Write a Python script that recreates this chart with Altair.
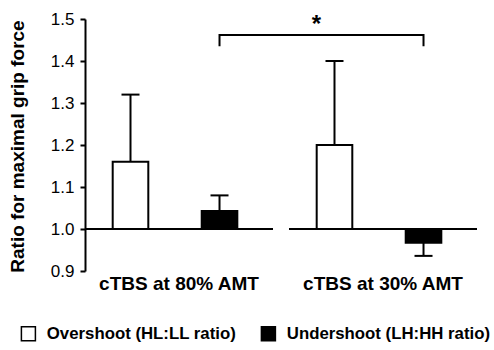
import altair as alt
import pandas as pd

groups = ["cTBS at 80% AMT", "cTBS at 30% AMT"]
series = ["Overshoot (HL:LL ratio)", "Undershoot (LH:HH ratio)"]
overshoot_mean = [1.16, 1.20]
overshoot_err = [1.32, 1.40]
undershoot_mean = [1.043, 0.967]
undershoot_err = [1.08, 0.936]
baseline = 1.0
y_ticks = [0.9, 1.0, 1.1, 1.2, 1.3, 1.4, 1.5]
bracket_low = 1.435
bracket_high = 1.462
star_y = 1.47
star_text = "*"

FONT = "Liberation Sans"

rows = []
for i, g in enumerate(groups):
    rows.append(dict(group=g, series=series[0], mean=overshoot_mean[i],
                     err=overshoot_err[i], base=baseline))
    rows.append(dict(group=g, series=series[1], mean=undershoot_mean[i],
                     err=undershoot_err[i], base=baseline))
df = pd.DataFrame(rows)

base_df = pd.DataFrame({"group": groups, "base": [baseline] * len(groups)})

bracket_df = pd.DataFrame({
    "group": [groups[0], groups[0], groups[1], groups[1]],
    "series": [series[1]] * 4,
    "y": [bracket_low, bracket_high, bracket_high, bracket_low],
    "order": [0, 1, 2, 3],
})
star_df = pd.DataFrame({"group": [groups[1]], "series": [series[0]],
                        "y": [star_y], "label": [star_text]})

x_scale = alt.Scale(domain=groups, paddingInner=0.0784, paddingOuter=0)
x_axis = alt.Axis(title=None, domain=False, ticks=False, labelAngle=0,
                  labelFont=FONT, labelFontSize=19, labelFontWeight="bold",
                  labelColor="black", labelPadding=3)
xo_scale = alt.Scale(domain=series, paddingInner=0.6, paddingOuter=0.356, align=0.437)
y_scale = alt.Scale(domain=[0.9, 1.5], nice=False, zero=False)
y_axis = alt.Axis(values=y_ticks, format=".1f", grid=False,
                  title="Ratio for maximal grip force",
                  titleFont=FONT, titleFontSize=19, titleFontWeight="bold",
                  titleColor="black", titleX=-58, titleY=127, titleAngle=-90,
                  titleAlign="center", titleBaseline="bottom",
                  labelFont=FONT, labelFontSize=17, labelColor="black",
                  labelPadding=6, domainColor="black", domainWidth=2,
                  tickColor="black", tickWidth=2, tickSize=5)

X = alt.X("group:N", scale=x_scale, axis=x_axis, sort=groups)
XO = alt.XOffset("series:N", scale=xo_scale, sort=series)

baseline_layer = alt.Chart(base_df).mark_bar(
    fill="transparent", stroke="black", strokeWidth=2
).encode(
    x=X,
    y=alt.Y("base:Q", scale=y_scale, axis=y_axis),
    y2="base:Q",
)

bars = alt.Chart(df).mark_bar(stroke="black", strokeWidth=2).encode(
    x=X,
    xOffset=XO,
    y=alt.Y("mean:Q", scale=y_scale, axis=y_axis),
    y2="base:Q",
    fill=alt.Fill("series:N", scale=alt.Scale(domain=series, range=["white", "black"]),
                  legend=alt.Legend(title=None, orient="none", legendX=-65, legendY=306,
                                    direction="horizontal", columns=2,
                                    symbolType="square", symbolSize=196,
                                    symbolStrokeColor="black", symbolStrokeWidth=1.5,
                                    symbolOpacity=1,
                                    labelFont=FONT, labelFontSize=16.8,
                                    labelFontWeight="bold", labelColor="black",
                                    labelOffset=10, columnPadding=21, labelLimit=400)),
)

err_rules = alt.Chart(df).mark_rule(color="black", strokeWidth=2).encode(
    x=X, xOffset=XO,
    y=alt.Y("mean:Q", scale=y_scale, axis=y_axis),
    y2="err:Q",
)

caps = alt.Chart(df).mark_tick(color="black", size=18, thickness=2, opacity=1).encode(
    x=X, xOffset=XO,
    y=alt.Y("err:Q", scale=y_scale, axis=y_axis),
)

bracket = alt.Chart(bracket_df).mark_line(color="black", strokeWidth=2).encode(
    x=X, xOffset=XO,
    y=alt.Y("y:Q", scale=y_scale, axis=y_axis),
    order="order:Q",
)

star = alt.Chart(star_df).mark_text(
    font=FONT, fontSize=24, fontWeight="bold", color="black",
    dx=-18, baseline="alphabetic", align="center"
).encode(
    x=X, xOffset=XO,
    y=alt.Y("y:Q", scale=y_scale, axis=y_axis),
    text="label:N",
)

chart = alt.layer(baseline_layer, bars, err_rules, caps, bracket, star).properties(
    width=392, height=252,
    padding={"left": 85, "top": 19, "right": 17, "bottom": 79},
    autosize="none",
    background="white",
).configure_view(stroke=None)

chart.save("out.html", embed_options={"renderer": "svg", "actions": False})
